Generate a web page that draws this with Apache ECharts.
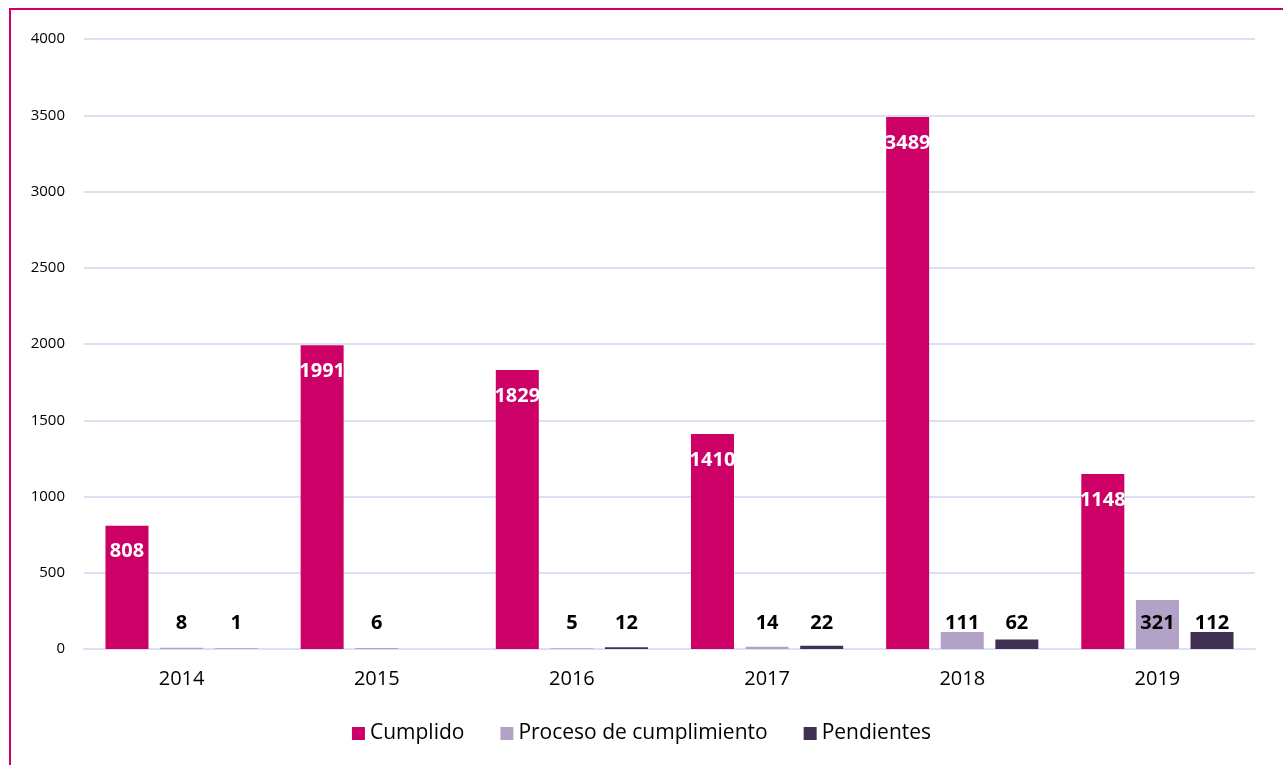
<!DOCTYPE html>
<html>
<head>
<meta charset="utf-8">
<script src="https://cdn.jsdelivr.net/npm/echarts@6/dist/echarts.min.js"></script>
<style>
  html, body { margin: 0; padding: 0; background: #fff; overflow: hidden; }
  #frame { position: absolute; left: 9px; top: 8px; width: 1290px; height: 780px; border: 2px solid #cc0066; box-sizing: border-box; }
  #chart { position: absolute; left: 0; top: 0; width: 1283px; height: 765px; }
</style>
</head>
<body>
<div id="frame"></div>
<div id="chart"></div>
<script>
// datos
var years = ['2014', '2015', '2016', '2017', '2018', '2019'];
var cumplido = [808, 1991, 1829, 1410, 3489, 1148];
var proceso = [8, 6, 5, 14, 111, 321];
var pendientes = [1, null, 12, 22, 62, 112];
var colors = ['#cc0066', '#b3a2c7', '#403152'];
var font = '"Open Sans", "Noto Sans", sans-serif';

var smallLabel = {
    show: true,
    position: 'insideBottom',
    distance: 16,
    color: '#000',
    fontWeight: 'bold',
    fontSize: 20,
    fontFamily: font
};

var option = {
    animation: false,
    color: colors,
    grid: { left: 84, right: 28, top: 39, bottom: 116 },
    legend: {
        bottom: 16,
        left: 'center',
        itemWidth: 13,
        itemHeight: 13,
        itemGap: 36,
        icon: 'rect',
        textStyle: { fontSize: 21, color: '#000', fontFamily: font },
        data: ['Cumplido', 'Proceso de cumplimiento', 'Pendientes']
    },
    xAxis: {
        type: 'category',
        data: years,
        axisLine: { lineStyle: { color: '#d9e1f2', width: 2 } },
        axisTick: { show: false },
        axisLabel: { fontSize: 20, color: '#000', margin: 20, fontFamily: font }
    },
    yAxis: {
        type: 'value',
        min: 0,
        max: 4000,
        interval: 500,
        axisLine: { show: false },
        axisTick: { show: false },
        splitLine: { lineStyle: { color: '#d9e1f2', width: 2 } },
        axisLabel: {
            fontSize: 15, color: '#000', margin: 19, fontFamily: font,
            formatter: function (v) { return String(v); }
        }
    },
    series: [
        {
            name: 'Cumplido',
            type: 'bar',
            data: cumplido,
            barWidth: 43,
            barGap: '27%',
            label: {
                show: true,
                position: 'insideTop',
                distance: 16,
                color: '#fff',
                fontWeight: 'bold',
                fontSize: 20,
                fontFamily: font
            }
        },
        {
            name: 'Proceso de cumplimiento',
            type: 'bar',
            data: proceso,
            barWidth: 43,
            label: smallLabel
        },
        {
            name: 'Pendientes',
            type: 'bar',
            data: pendientes,
            barWidth: 43,
            label: smallLabel
        }
    ]
};

var chart = echarts.init(document.getElementById('chart'));
chart.setOption(option);
</script>
</body>
</html>
